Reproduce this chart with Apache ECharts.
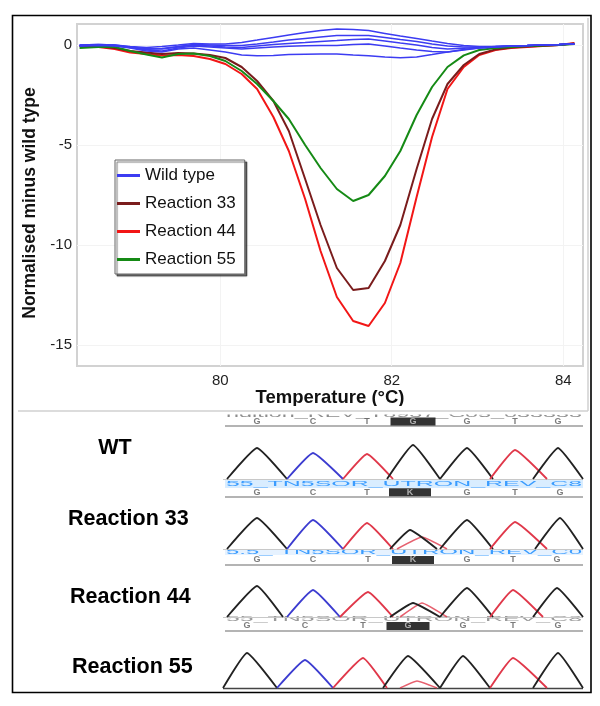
<!DOCTYPE html>
<html><head><meta charset="utf-8">
<script src="https://cdn.jsdelivr.net/npm/echarts@6/dist/echarts.min.js"></script>
<style>html,body{margin:0;padding:0;background:#fff}#c{width:600px;height:706px}</style>
</head><body><div id="c"></div>
<script>
// ---------- Melt curve data (difference plot) ----------
const temps = [78.36,78.58,78.77,78.95,79.14,79.32,79.51,79.69,79.88,80.06,80.25,80.43,80.62,80.80,80.99,81.17,81.36,81.55,81.73,81.92,82.10,82.29,82.47,82.65,82.84,83.02,83.21,83.39,83.58,83.76,83.95,84.13];
const wildType1 = [0.0,0.02,0.0,-0.08,-0.12,-0.08,0.0,0.08,0.05,0.05,0.13,0.25,0.38,0.5,0.62,0.72,0.8,0.77,0.72,0.58,0.45,0.33,0.2,0.08,-0.02,-0.08,-0.08,-0.05,-0.03,0.0,0.02,0.05];
const wildType2 = [-0.05,0.0,-0.02,-0.12,-0.22,-0.18,-0.08,0.03,0.0,-0.03,-0.03,0.05,0.15,0.25,0.33,0.4,0.47,0.48,0.47,0.38,0.28,0.18,0.05,-0.05,-0.1,-0.1,-0.08,-0.05,-0.03,0.0,0.02,0.05];
const wildType3 = [0.0,0.03,0.0,-0.1,-0.18,-0.2,-0.1,0.0,-0.05,-0.1,-0.12,-0.05,0.02,0.08,0.13,0.18,0.22,0.27,0.3,0.2,0.1,0.0,-0.12,-0.2,-0.16,-0.12,-0.08,-0.05,-0.03,0.0,0.02,0.05];
const wildType4 = [-0.03,0.0,-0.03,-0.12,-0.25,-0.3,-0.15,-0.05,-0.1,-0.15,-0.2,-0.15,-0.1,-0.06,-0.04,-0.03,-0.03,0.02,0.05,-0.05,-0.15,-0.25,-0.33,-0.35,-0.25,-0.15,-0.1,-0.05,-0.03,0.0,0.02,0.05];
const wildType5 = [-0.05,-0.02,-0.05,-0.15,-0.3,-0.35,-0.2,-0.15,-0.25,-0.35,-0.5,-0.54,-0.52,-0.48,-0.46,-0.45,-0.45,-0.5,-0.54,-0.6,-0.64,-0.6,-0.48,-0.35,-0.22,-0.15,-0.1,-0.06,-0.03,0.0,0.02,0.05];
const reaction33 = [-0.05,-0.08,-0.15,-0.3,-0.38,-0.45,-0.4,-0.42,-0.5,-0.65,-1.1,-1.8,-2.8,-4.3,-6.7,-9.0,-11.15,-12.25,-12.15,-10.8,-9.0,-6.2,-3.7,-1.95,-1.0,-0.45,-0.22,-0.12,-0.08,-0.04,0.0,0.08];
const reaction44 = [-0.05,-0.1,-0.2,-0.38,-0.45,-0.52,-0.5,-0.55,-0.7,-0.95,-1.45,-2.2,-3.6,-5.3,-7.7,-10.3,-12.6,-13.8,-14.05,-12.9,-10.9,-7.6,-4.6,-2.2,-1.1,-0.5,-0.25,-0.15,-0.1,-0.05,0.0,0.1];
const reaction55 = [-0.15,-0.1,-0.1,-0.3,-0.48,-0.62,-0.45,-0.42,-0.55,-0.8,-1.3,-1.95,-2.8,-3.7,-5.0,-6.15,-7.2,-7.8,-7.5,-6.55,-5.3,-3.5,-2.1,-1.1,-0.52,-0.25,-0.15,-0.1,-0.05,-0.02,0.0,0.05];
const xTicks = [80, 82, 84];
const yTicks = [0, -5, -10, -15];
const legendNames = ['Wild type', 'Reaction 33', 'Reaction 44', 'Reaction 55'];

// ---------- Sequencing chromatograms ----------
// each peak: [start scan, apex scan, end scan, intensity]
const channels = ['G','C','T','G','G','T','G'];
const wtPeaks  = [[4,34,64,31],[64,90,120,26],[120,144,170,25],[164,190,217,34],[217,244,270,31],[267,292,324,29],[310,335,360,31]];
const r33Peaks = [[4,34,64,31],[64,90,120,29],[120,144,170,26],[167,187,214,19],[217,244,270,29],[267,292,324,27],[312,337,360,31]];
const r44Peaks = [[4,34,60,31],[64,90,117,27],[117,145,170,25],[167,190,217,14],[217,244,270,29],[267,290,320,27],[310,334,360,29]];
const r55Peaks = [[0,24,54,35],[54,82,110,28],[110,140,164,30],[160,185,217,32],[217,240,267,32],[267,290,324,30],[310,335,360,35]];
const r33Second = [[174,199,224,12]];
const r44Second = [[177,199,224,14]];
const r55Second = [[177,194,214,7]];
const wtCalls  = ['G','C','T','G','G','T','G'];
const r33Calls = ['G','C','T','K','G','T','G'];
const r44Calls = ['G','C','T','K','G','T','G'];
const r55Calls = ['G','C','T','G','G','T','G'];
const sampleLabels = ['WT', 'Reaction 33', 'Reaction 44', 'Reaction 55'];
const headerTexts = ['ndition_REV_T8937_C05_033333', '55_TN5SOR_UTRON_REV_C8', '5.5_ TN5SOR_UTRON_REV_C0', '55_TN5SOR_UTRON_REV_C8'];

const FONT = "'Liberation Sans', Arial, Helvetica, sans-serif";
const chColor = {G:'#222222', C:'#3c3cd0', T:'#e0384a'};

const chart = echarts.init(document.getElementById('c'), null, {renderer:'canvas'});

// layout of the four traces (pixels)
const traceLayout = [
  {top:413, base:479, letter:421.5, rule:426, box:45},
  {top:484, base:549, letter:492.3, rule:497, box:42},
  {top:552, base:617, letter:560, rule:565, box:42},
  {top:618, base:688, letter:626, rule:631, box:43}
];
const tracePeaks = [wtPeaks, r33Peaks, r44Peaks, r55Peaks];
const traceSecond = [[], r33Second, r44Second, r55Second];
const traceCalls = [wtCalls, r33Calls, r44Calls, r55Calls];

const grids = [{left:77, top:24, width:506, height:342, show:true, borderColor:'#d2d2d2', borderWidth:2, backgroundColor:'#fff', z:1}];
const xAxes = [{
  type:'value', gridIndex:0, min:78.33, max:84.23,
  axisLine:{show:true, onZero:false, lineStyle:{color:'#9a9a9a', width:2}},
  axisTick:{show:false}, splitLine:{show:false},
  axisLabel:{customValues:xTicks, fontSize:15, color:'#222', margin:7, fontFamily:FONT},
  name:'Temperature (\u00B0C)', nameLocation:'middle', nameGap:21,
  nameTextStyle:{fontSize:18.5, fontWeight:'bold', color:'#111', fontFamily:FONT}
}];
const yAxes = [{
  type:'value', gridIndex:0, min:-16.05, max:1.05,
  axisLine:{show:true, onZero:false, lineStyle:{color:'#9a9a9a', width:2}},
  axisTick:{show:false}, splitLine:{show:false},
  axisLabel:{customValues:yTicks, fontSize:15, color:'#222', margin:5, fontFamily:FONT},
  name:'Normalised minus wild type', nameLocation:'middle', nameGap:36,
  nameTextStyle:{fontSize:17.5, fontWeight:'bold', color:'#111', fontFamily:FONT, padding:[0,16,0,0]}
}];

const series = [];
// faint grid lines
series.push({type:'line', xAxisIndex:0, yAxisIndex:0, data:[], silent:true, z:1,
  markLine:{silent:true, symbol:'none', label:{show:false}, animation:false, z:1,
    lineStyle:{color:'#f3f3f3', width:1, type:'solid'},
    data:[...xTicks.map(v=>({xAxis:v})), ...yTicks.map(v=>({yAxis:v}))]}});

const pair = arr => temps.map((t,i)=>[t, arr[i]]);
const addMelt = (name, arr, color, width, z) => series.push({
  name, type:'line', xAxisIndex:0, yAxisIndex:0, data:pair(arr), symbol:'none', smooth:false,
  lineStyle:{color, width}, itemStyle:{color}, z, animation:false
});
addMelt('Reaction 44', reaction44, '#f21616', 2, 3);
addMelt('Reaction 33', reaction33, '#7a1c1c', 2, 3);
addMelt('Reaction 55', reaction55, '#158a15', 2, 3);
[wildType1, wildType2, wildType3, wildType4, wildType5].forEach(a => addMelt('Wild type', a, '#3c3cf2', 1.5, 4));

// chromatogram grids
traceLayout.forEach((L, k) => {
  const gi = k + 1;
  const h = L.base - L.top;
  grids.push({left:223, top:L.top, width:360, height:h, show:false});
  xAxes.push({type:'value', gridIndex:gi, min:0, max:360, show:false});
  yAxes.push({type:'value', gridIndex:gi, min:0, max:h, show:false});
  const peaks = tracePeaks[k];
  traceSecond[k].forEach(p => series.push({
    type:'line', xAxisIndex:gi, yAxisIndex:gi, data:[[p[0],0],[p[1],p[3]],[p[2],0]],
    symbol:'none', smooth:0.12, lineStyle:{color:chColor.T, width:1.6, opacity:0.8, join:'round'}, silent:true, animation:false, z:3
  }));
  peaks.forEach((p, i) => series.push({
    type:'line', xAxisIndex:gi, yAxisIndex:gi, data:[[p[0],0],[p[1],p[3]],[p[2],0]],
    symbol:'none', smooth:0.12, lineStyle:{color:chColor[channels[i]], width:1.8, join:'round'}, silent:true, animation:false, z:4
  }));
  const calls = traceCalls[k];
  series.push({
    type:'scatter', xAxisIndex:gi, yAxisIndex:gi, silent:true, animation:false, z:6,
    data: peaks.map((p, i) => {
      const hi = i === 3;
      return {
        value:[p[1], L.base - L.letter], name: calls[i],
        symbol:'rect', symbolSize: hi ? [L.box, 8] : 1,
        itemStyle:{color: hi ? '#000' : 'rgba(0,0,0,0)'},
        label:{show:true, position:'inside', formatter:'{b}', fontSize:9, fontWeight:'bold',
               fontFamily:FONT, color: hi ? '#cfcfcf' : '#5a5a5a'}
      };
    })
  });
});

// decorative / annotation graphics
const measure = (text, size, weight) => {
  const ctx = document.createElement('canvas').getContext('2d');
  ctx.font = weight + ' ' + size + 'px ' + FONT;
  return ctx.measureText(text).width;
};
const stretch = (text, x, y, width, size, weight, fill, z) => ({
  type:'text', x, y, scaleX: width / measure(text, size, weight), silent:true, z,
  style:{text, fontSize:size, fontWeight:weight, fontFamily:FONT, fill, align:'left', verticalAlign:'middle'}
});
const hline = (x1, x2, y, color, w, z) => ({type:'line', silent:true, z, shape:{x1, y1:y, x2, y2:y}, style:{stroke:color, lineWidth:w}});

const graphics = [];
graphics.push({type:'rect', silent:true, z:50, shape:{x:12.5, y:15.5, width:578.5, height:677}, style:{fill:null, stroke:'#000', lineWidth:1.6}});
// header bands (blue)
graphics.push({type:'rect', silent:true, z:0, shape:{x:225, y:480, width:358, height:8}, style:{fill:'#d9edff'}});
graphics.push({type:'rect', silent:true, z:0, shape:{x:225, y:549.5, width:358, height:5.5}, style:{fill:'#e6f2ff'}});
// header texts
graphics.push(stretch(headerTexts[0], 226, 415, 356, 9, 'normal', '#8c8c8c', 1));
graphics.push({type:'rect', silent:true, z:2, shape:{x:220, y:406, width:368, height:8.5}, style:{fill:'#fff'}});
graphics.push(stretch(headerTexts[1], 226, 484, 356, 8, 'normal', '#3a9cff', 1));
graphics.push(stretch(headerTexts[2], 226, 552, 356, 7, 'normal', '#3a9cff', 1));
graphics.push(stretch(headerTexts[3], 226, 619, 356, 7.5, 'normal', '#9a9a9a', 1));
// chart panel edges
graphics.push(hline(18, 588, 411, '#d0d0d0', 1.5, 10));
graphics.push({type:'line', silent:true, z:10, shape:{x1:588, y1:18, x2:588, y2:411}, style:{stroke:'#d0d0d0', lineWidth:1.5}});
// rules under base letters and trace baselines
traceLayout.forEach((L, k) => {
  graphics.push(hline(225, 583, L.rule, '#b4b4b4', 1.8, 1));
  graphics.push(hline(223, 583, L.base + 0.5, k === 3 ? '#444' : '#c8c8c8', k === 3 ? 1.5 : 1.2, 1));
});
// sample labels
const labelPos = [[115,'center',448],[68,'left',519],[70,'left',597],[72,'left',667]];
sampleLabels.forEach((t, i) => graphics.push({
  type:'text', silent:true, z:20, x:labelPos[i][0], y:labelPos[i][2],
  style:{text:t, fontSize:21.5, fontWeight:'bold', fontFamily:FONT, fill:'#000', align:labelPos[i][1], verticalAlign:'middle'}
}));

chart.setOption({
  animation:false,
  backgroundColor:'#fff',
  grid:grids, xAxis:xAxes, yAxis:yAxes, series,
  legend:{
    data:legendNames, orient:'vertical', left:115, top:160, icon:'rect',
    itemWidth:23, itemHeight:3, itemGap:11, padding:[7,9,6,2],
    backgroundColor:'#fff', borderColor:'#666', borderWidth:1,
    shadowColor:'rgba(0,0,0,0.55)', shadowBlur:1, shadowOffsetX:2, shadowOffsetY:2,
    selectedMode:false, z:10,
    textStyle:{fontSize:17, color:'#111', fontFamily:FONT}
  },
  graphic:{elements:graphics}
});
</script></body></html>
